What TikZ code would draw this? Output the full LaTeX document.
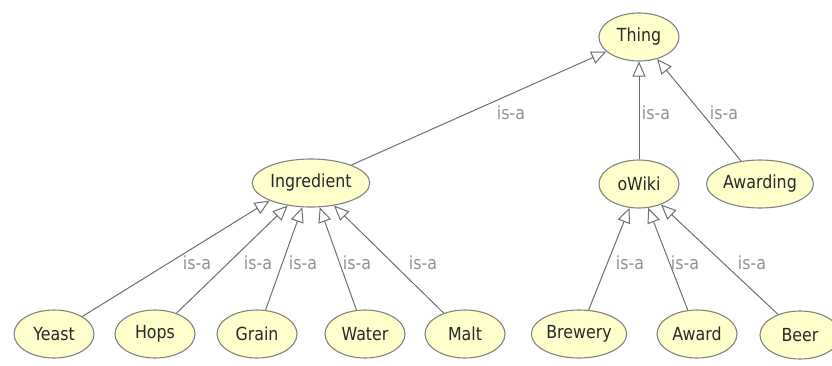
\documentclass[tikz,border=0pt]{standalone}
\usepackage{fontspec}
\setmainfont{DejaVu Sans}[FakeStretch=0.88]
\usetikzlibrary{shapes.geometric,arrows.meta}
\definecolor{clsfill}{RGB}{255,255,204}
\definecolor{clsline}{RGB}{130,130,130}
\definecolor{clstext}{RGB}{40,40,40}
\definecolor{linkcol}{RGB}{110,110,110}
\definecolor{isacol}{RGB}{145,145,145}
\tikzset{
  cls/.style={ellipse, draw=clsline, fill=clsfill, line width=1.1pt, text=clstext,
    inner xsep=1pt, minimum width=80pt, minimum height=48pt,
    font=\fontsize{18}{20}\selectfont},
  isa/.style={text=isacol, font=\fontsize{18}{20}\selectfont},
  sub/.style={draw=linkcol, line width=1pt, -{Triangle[open, length=15pt, width=13pt]}}
}
\begin{document}
\begin{tikzpicture}[x=1pt, y=-1pt]
    \useasboundingbox (0,0) rectangle (832,365);

    % Draw classes
    \node[cls] (thing) at (639,37) {Thing};
    \node[cls] (ingredient) at (311,183) {Ingredient};
    \node[cls] (owiki) at (639,184) {oWiki};
    \node[cls] (awarding) at (760,184) {Awarding};

    \node[cls] (yeast) at (54,334) {Yeast};
    \node[cls] (hops) at (155,334) {Hops};
    \node[cls] (grain) at (257,334) {Grain};
    \node[cls] (water) at (365,334) {Water};
    \node[cls] (malt) at (465,334) {Malt};
    \node[cls] (brewery) at (579,334) {Brewery};
    \node[cls] (award) at (697,334) {Award};
    \node[cls] (beer) at (800,335) {Beer};

    % Draw is-a links
    \draw[sub] (ingredient) -- (thing);
    \draw[sub] (owiki) -- (thing);
    \draw[sub] (awarding) -- (thing);

    \draw[sub] (yeast) -- (ingredient.203);
    \draw[sub] (hops) -- (ingredient);
    \draw[sub] (grain) -- (ingredient);
    \draw[sub] (water) -- (ingredient);
    \draw[sub] (malt) -- (ingredient);

    \draw[sub] (brewery) -- (owiki);
    \draw[sub] (award) -- (owiki);
    \draw[sub] (beer) -- (owiki);

    % Add labels
    \node[isa] (isaingr) at (511,113) {is-a};
    \node[isa] (isaowiki) at (656,113) {is-a};
    \node[isa] (isaawarding) at (724,113) {is-a};

    \node[isa] (isayeast) at (197,263) {is-a};
    \node[isa] (isahops) at (258,263) {is-a};
    \node[isa] (isagrain) at (303,263) {is-a};
    \node[isa] (isawater) at (357,263) {is-a};
    \node[isa] (isamalt) at (423,263) {is-a};
    \node[isa] (isabrewery) at (630,263) {is-a};
    \node[isa] (isaaward) at (685,263) {is-a};
    \node[isa] (isabeer) at (752,263) {is-a};
\end{tikzpicture}
\end{document}
